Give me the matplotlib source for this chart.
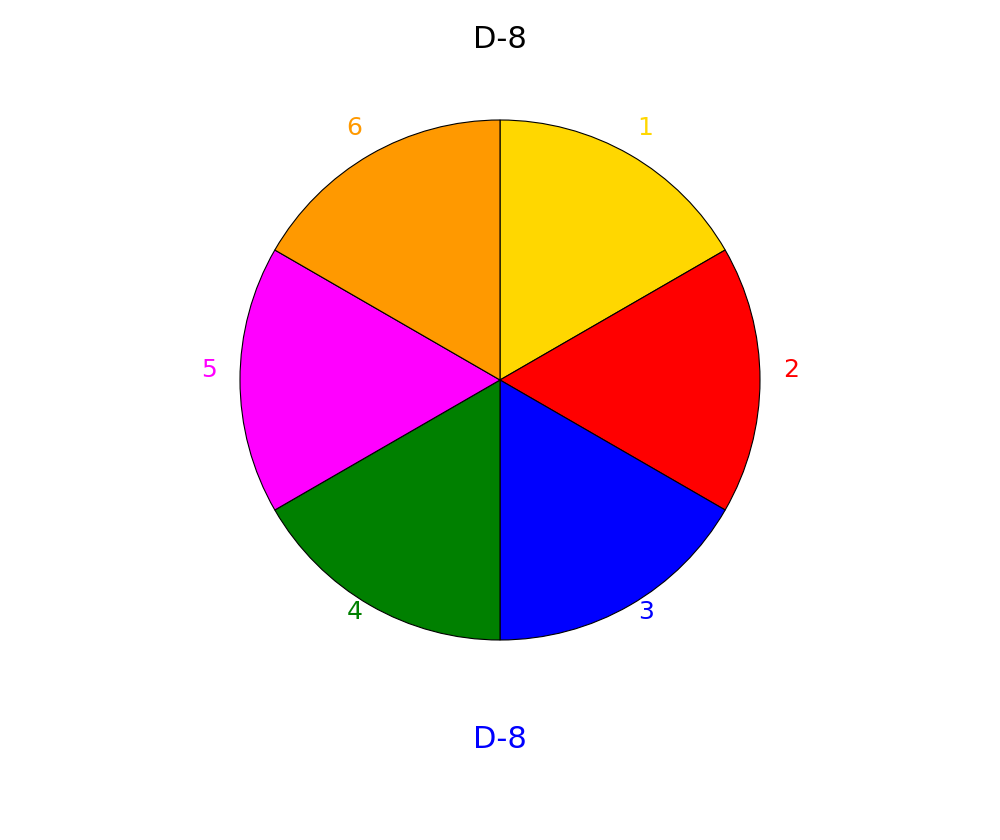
import matplotlib
matplotlib.use('Agg')
import matplotlib.pyplot as plt
import matplotlib.transforms as mtransforms

labels = ['1', '2', '3', '4', '5', '6']
values = [1, 1, 1, 1, 1, 1]
colors = ['#FFD700', '#FF0000', '#0000FF', '#008000', '#FF00FF', '#FF9900']

fig = plt.figure(figsize=(10, 8.4), dpi=100)
ax = fig.add_axes([0.24, 200 / 840, 0.52, 520 / 840])

wedges, texts = ax.pie(values, labels=labels, colors=colors, startangle=90,
                       counterclock=False, labeldistance=1.0,
                       wedgeprops={'edgecolor': 'black', 'linewidth': 0.8},
                       textprops={'fontsize': 18})
# push labels outward (a bit wider than tall) and lift them slightly
lift = mtransforms.offset_copy(ax.transData, fig=fig, x=0, y=10, units='dots')
for t, c in zip(texts, colors):
    x, y = t.get_position()
    t.set_position((x * 1.12, y * 1.075))
    t.set_transform(lift)
    t.set_color(c)
    t.set_horizontalalignment('center')
    t.set_verticalalignment('center')
ax.set_xlim(-1, 1)
ax.set_ylim(-1, 1)
ax.set_aspect('equal')
ax.axis('off')

fig.text(0.5, 1 - 40 / 840, 'D-8', ha='center', va='center', fontsize=22, color='black')
fig.text(0.5, 1 - 740 / 840, 'D-8', ha='center', va='center', fontsize=22, color='blue')

fig.savefig('out.png', dpi=100)
